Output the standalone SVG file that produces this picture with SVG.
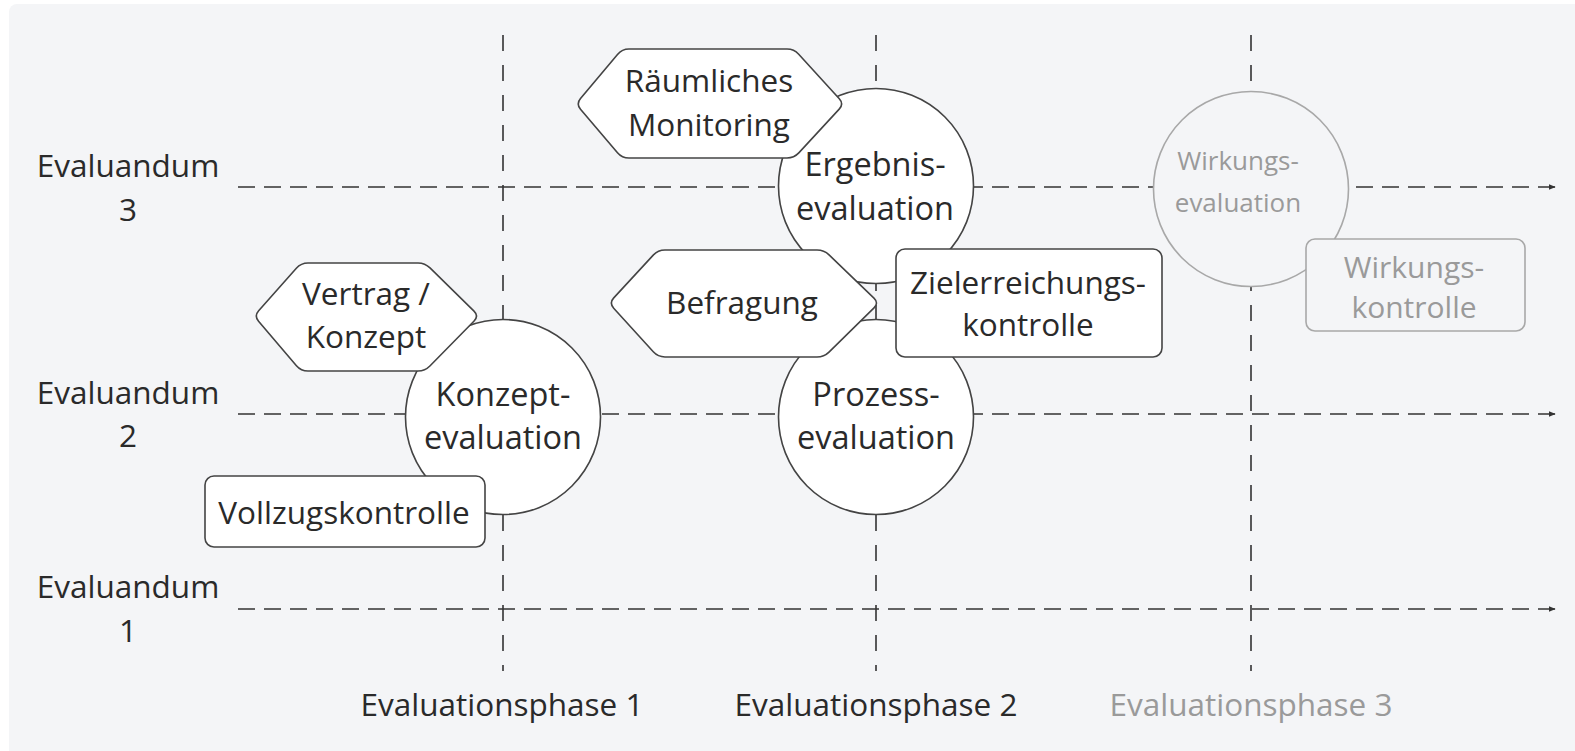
<svg xmlns="http://www.w3.org/2000/svg" width="1575" height="751" viewBox="0 0 1575 751">
<defs>
<style>
.t{font-family:"Open Sans","Noto Sans",sans-serif;font-size:31.5px;fill:#2a2a2a;text-anchor:middle}
.c{font-size:32.5px}
.g{fill:#9a9a9a}
.ax{fill:none;stroke:#333;stroke-width:1.6}
.h{stroke-dasharray:17 9}
.v{stroke-dasharray:16 14}
.n{fill:#fff;stroke:#444;stroke-width:1.6;stroke-linejoin:round}
.ng{fill:#f4f5f7;stroke:#a8a8a8;stroke-width:1.6}
</style>
<marker id="arr" viewBox="0 0 10 10" refX="9" refY="5" markerWidth="7" markerHeight="7" markerUnits="userSpaceOnUse" orient="auto">
<path d="M0,1 L10,5 L0,9 z" fill="#333"/>
</marker>
</defs>
<rect x="9" y="4" width="1580" height="760" rx="8" fill="#f4f5f7"/>
<g id="axes-labels">
<text class="t" x="128" y="177">Evaluandum</text>
<text class="t" x="128" y="221">3</text>
<text class="t" x="128" y="404">Evaluandum</text>
<text class="t" x="128" y="447">2</text>
<text class="t" x="128" y="598">Evaluandum</text>
<text class="t" x="128" y="642">1</text>
<text class="t" x="502" y="716">Evaluationsphase 1</text>
<text class="t" x="876" y="716">Evaluationsphase 2</text>
<text class="t g" x="1251" y="716">Evaluationsphase 3</text>
</g>
<g id="connectors">
<line class="ax v" x1="503" y1="35" x2="503" y2="671"/>
<line class="ax v" x1="876" y1="35" x2="876" y2="671"/>
<line class="ax v" x1="1251" y1="35" x2="1251" y2="671" stroke="#888"/>
<line class="ax h" x1="238" y1="187" x2="1555" y2="187" marker-end="url(#arr)"/>
<line class="ax h" x1="238" y1="414" x2="1555" y2="414" marker-end="url(#arr)"/>
<line class="ax h" x1="238" y1="609" x2="1555" y2="609" marker-end="url(#arr)"/>
</g>
<g id="konzeptevaluation">
<circle class="n" cx="503" cy="417" r="97.5"/>
<text class="t c" x="503" y="406">Konzept-</text>
<text class="t c" x="503" y="449">evaluation</text>
</g>
<g id="ergebnisevaluation">
<circle class="n" cx="876" cy="186" r="97.5"/>
<text class="t c" x="875" y="176">Ergebnis-</text>
<text class="t c" x="875" y="220">evaluation</text>
</g>
<g id="prozessevaluation">
<circle class="n" cx="876" cy="417" r="97.5"/>
<text class="t c" x="876" y="406">Prozess-</text>
<text class="t c" x="876" y="449">evaluation</text>
</g>
<g id="wirkungsevaluation">
<circle class="ng" cx="1251" cy="189" r="97.5"/>
<text class="t g" x="1238" y="170" style="font-size:26px">Wirkungs-</text>
<text class="t g" x="1238" y="212" style="font-size:26px">evaluation</text>
</g>
<g id="raeumliches-monitoring">
<path class="n" d="M580.5,98.6 L617.5,54.4 Q622,49 629,49 L787,49 Q794,49 798.7,54.2 L839.3,98.8 Q844,104 839.2,109.1 L798.8,152.9 Q794,158 787,158 L629,158 Q622,158 617.5,152.7 L580.5,109.3 Q576,104 580.5,98.6 Z"/>
<text class="t" x="709" y="92">Räumliches</text>
<text class="t" x="709" y="136">Monitoring</text>
</g>
<g id="befragung">
<path class="n" d="M613.75,297.86 L653.25,255.14 Q658,250 665,250 L817,250 Q824,250 829.04,254.86 L873.96,298.14 Q879,303 874.01,307.9 L828.99,352.1 Q824,357 817,357 L665,357 Q658,357 653.3,351.81 L613.7,308.19 Q609,303 613.75,297.86 Z"/>
<text class="t" x="742" y="314">Befragung</text>
</g>
<g id="zielerreichungskontrolle">
<rect class="n" x="896" y="249" width="266" height="108" rx="9"/>
<text class="t" x="1028" y="294">Zielerreichungs-</text>
<text class="t" x="1028" y="336">kontrolle</text>
</g>
<g id="vertrag-konzept">
<path class="n" d="M258.65,310.76 L296.35,268.24 Q301,263 308,263 L418,263 Q425,263 429.99,267.9 L474.01,311.1 Q479,316 474.1,320.99 L429.9,366.01 Q425,371 418,371 L308,371 Q301,371 296.45,365.67 L258.55,321.33 Q254,316 258.65,310.76 Z"/>
<text class="t" x="366" y="305">Vertrag /</text>
<text class="t" x="366" y="348">Konzept</text>
</g>
<g id="vollzugskontrolle">
<rect class="n" x="205" y="476" width="280" height="71" rx="9"/>
<text class="t" x="344" y="524">Vollzugskontrolle</text>
</g>
<g id="wirkungskontrolle">
<rect class="ng" x="1306" y="239" width="219" height="92" rx="9"/>
<text class="t g" x="1414" y="278" style="font-size:30px">Wirkungs-</text>
<text class="t g" x="1414" y="318" style="font-size:30px">kontrolle</text>
</g>
</svg>
